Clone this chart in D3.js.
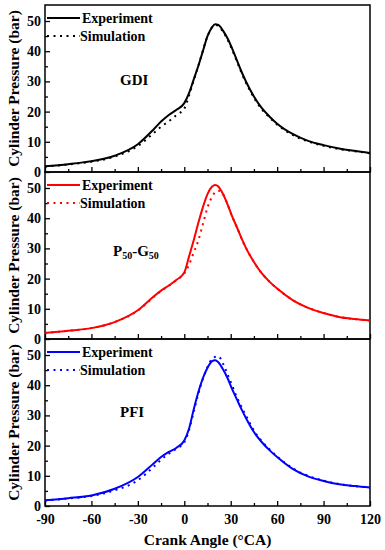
<!DOCTYPE html>
<html>
<head>
<meta charset="utf-8">
<script src="https://cdn.jsdelivr.net/npm/d3@7"></script>
<style>
  body { margin: 0; background: #fff; }
  svg text { font-family: "Liberation Serif", "Times New Roman", serif; font-weight: bold; fill: #000; }
</style>
</head>
<body>
<svg id="chart" width="385" height="550"></svg>
<script>
// crank angle grid (deg CA) shared by all curves
const angles = [-90, -75, -60, -45, -30, -20, -15, -10, -5, 0, 3, 6, 9, 12, 15, 18, 20, 22, 25, 28, 31, 34, 37, 40, 45, 50, 55, 60, 70, 80, 90, 100, 110, 120];

const gdiExp = [1.9, 2.6, 3.6, 5.4, 9.2, 14.0, 16.7, 18.9, 20.6, 22.8, 26.0, 30.5, 35.0, 40.0, 45.0, 48.0, 48.9, 48.7, 46.8, 44.2, 40.8, 37.0, 33.2, 29.8, 25.0, 21.2, 18.4, 16.0, 12.6, 10.3, 8.9, 7.8, 7.0, 6.3];
const gdiSim = [1.8, 2.5, 3.4, 5.1, 8.6, 12.8, 15.0, 16.8, 18.9, 21.0, 25.2, 30.2, 35.0, 40.2, 45.0, 48.0, 48.7, 48.4, 46.5, 43.8, 40.4, 36.6, 32.8, 29.4, 24.6, 20.8, 18.1, 15.7, 12.3, 10.1, 8.7, 7.6, 6.9, 6.2];

const pgExp = [2.0, 2.7, 3.6, 5.6, 9.5, 14.0, 16.0, 17.7, 19.6, 22.0, 27.2, 32.5, 38.3, 43.6, 48.0, 50.5, 51.0, 50.5, 48.0, 44.5, 40.5, 37.0, 33.3, 30.0, 25.5, 21.8, 19.0, 16.7, 12.9, 10.3, 8.6, 7.3, 6.6, 6.1];
const pgSim = [2.0, 2.7, 3.6, 5.6, 9.4, 13.8, 15.9, 17.6, 19.5, 21.7, 24.5, 28.5, 32.5, 38.0, 43.5, 47.2, 48.6, 49.1, 48.0, 44.5, 40.5, 37.0, 33.3, 30.0, 25.5, 21.8, 19.0, 16.7, 12.9, 10.3, 8.6, 7.3, 6.6, 6.1];

const pfiExp = [1.9, 2.6, 3.5, 5.7, 9.6, 14.0, 16.2, 17.9, 19.3, 21.7, 25.5, 31.8, 37.6, 42.3, 45.8, 48.0, 48.3, 47.6, 45.3, 42.3, 38.6, 35.3, 32.0, 29.0, 24.5, 21.2, 18.5, 16.2, 12.3, 9.8, 8.3, 7.2, 6.6, 6.1];
const pfiSim = [1.8, 2.5, 3.3, 5.2, 8.5, 12.9, 15.3, 17.3, 19.0, 21.0, 25.0, 31.0, 37.0, 42.0, 46.0, 48.8, 49.4, 49.6, 47.2, 43.6, 39.8, 36.0, 32.8, 29.8, 25.0, 21.5, 18.8, 16.4, 12.5, 10.0, 8.4, 7.3, 6.6, 6.1];

const panels = [
  { name: "GDI", color: "#000000", exp: gdiExp, sim: gdiSim },
  { name: "P50-G50", color: "#ff0000", exp: pgExp, sim: pgSim },
  { name: "PFI", color: "#0000ff", exp: pfiExp, sim: pfiSim }
];

const xTicks = [-90, -60, -30, 0, 30, 60, 90, 120];
const yTicks = [0, 10, 20, 30, 40, 50];

const svg = d3.select("#chart");
const left = 45, right = 370, top0 = 5, panelH = 167;

const x = d3.scaleLinear().domain([-90, 120]).range([left, right]);

panels.forEach((p, i) => {
  const top = top0 + i * panelH, bottom = top + panelH;
  const y = d3.scaleLinear().domain([0, 55.3]).range([bottom, top]);
  const g = svg.append("g");

  // x axis ticks (inward)
  const xAx = d3.axisBottom(x).tickValues(d3.range(-90, 121, 15)).tickSize(-4)
    .tickFormat(d => (i === 2 && xTicks.includes(d)) ? d : "");
  const gx = g.append("g").attr("transform", `translate(0,${bottom})`).call(xAx);
  gx.selectAll(".tick line").attr("y2", d => xTicks.includes(d) ? -5 : -3).attr("stroke-width", 1.3);
  gx.selectAll("text").attr("font-size", 14).attr("y", 8).attr("dy", "0.71em");
  gx.select(".domain").remove();

  // y axis ticks (inward)
  const yAx = d3.axisLeft(y).tickValues(d3.range(0, 51, 5)).tickSize(-4)
    .tickFormat(d => yTicks.includes(d) ? d : "");
  const gy = g.append("g").attr("transform", `translate(${left},0)`).call(yAx);
  gy.selectAll(".tick line").attr("x2", d => yTicks.includes(d) ? 5 : 3).attr("stroke-width", 1.3);
  gy.selectAll("text").attr("font-size", 14).attr("x", -4);
  gy.select(".domain").remove();

  // frame
  g.append("rect").attr("x", left).attr("y", top).attr("width", right - left).attr("height", panelH)
    .attr("fill", "none").attr("stroke", "#000").attr("stroke-width", 1.5);

  const line = d3.line().x(d => x(d[0])).y(d => y(d[1])).curve(d3.curveMonotoneX);
  g.append("path").datum(angles.map((a, k) => [a, p.exp[k]])).attr("d", line)
    .attr("fill", "none").attr("stroke", p.color).attr("stroke-width", 2);
  g.append("path").datum(angles.map((a, k) => [a, p.sim[k]])).attr("d", line)
    .attr("fill", "none").attr("stroke", p.color).attr("stroke-width", 2)
    .attr("stroke-dasharray", "2,4.5");

  // legend
  g.append("line").attr("x1", 47).attr("x2", 80).attr("y1", top + 13).attr("y2", top + 13)
    .attr("stroke", p.color).attr("stroke-width", 2);
  g.append("text").attr("x", 82).attr("y", top + 18).attr("font-size", 14).text("Experiment");
  g.append("line").attr("x1", 47).attr("x2", 80).attr("y1", top + 31).attr("y2", top + 31)
    .attr("stroke", p.color).attr("stroke-width", 2).attr("stroke-dasharray", "2,4.5");
  g.append("text").attr("x", 80).attr("y", top + 36).attr("font-size", 14).text("Simulation");

  // fuel label
  const lab = g.append("text").attr("font-size", 15);
  if (p.name === "P50-G50") {
    lab.attr("x", 113).attr("y", top + 84);
    lab.append("tspan").text("P");
    lab.append("tspan").attr("font-size", 10).attr("dy", 3).text("50");
    lab.append("tspan").attr("dy", -3).text("-G");
    lab.append("tspan").attr("font-size", 10).attr("dy", 3).text("50");
  } else {
    lab.attr("x", 120).attr("y", top + (i === 0 ? 80 : 78)).text(p.name);
  }

  // y axis title
  svg.append("text").attr("font-size", 15.5).attr("text-anchor", "middle")
    .attr("transform", `translate(19,${top + panelH / 2}) rotate(-90)`)
    .text("Cylinder Pressure (bar)");
});

svg.append("text").attr("x", (left + right) / 2).attr("y", 545).attr("text-anchor", "middle")
  .attr("font-size", 15.5).text("Crank Angle (°CA)");
</script>
</body>
</html>
